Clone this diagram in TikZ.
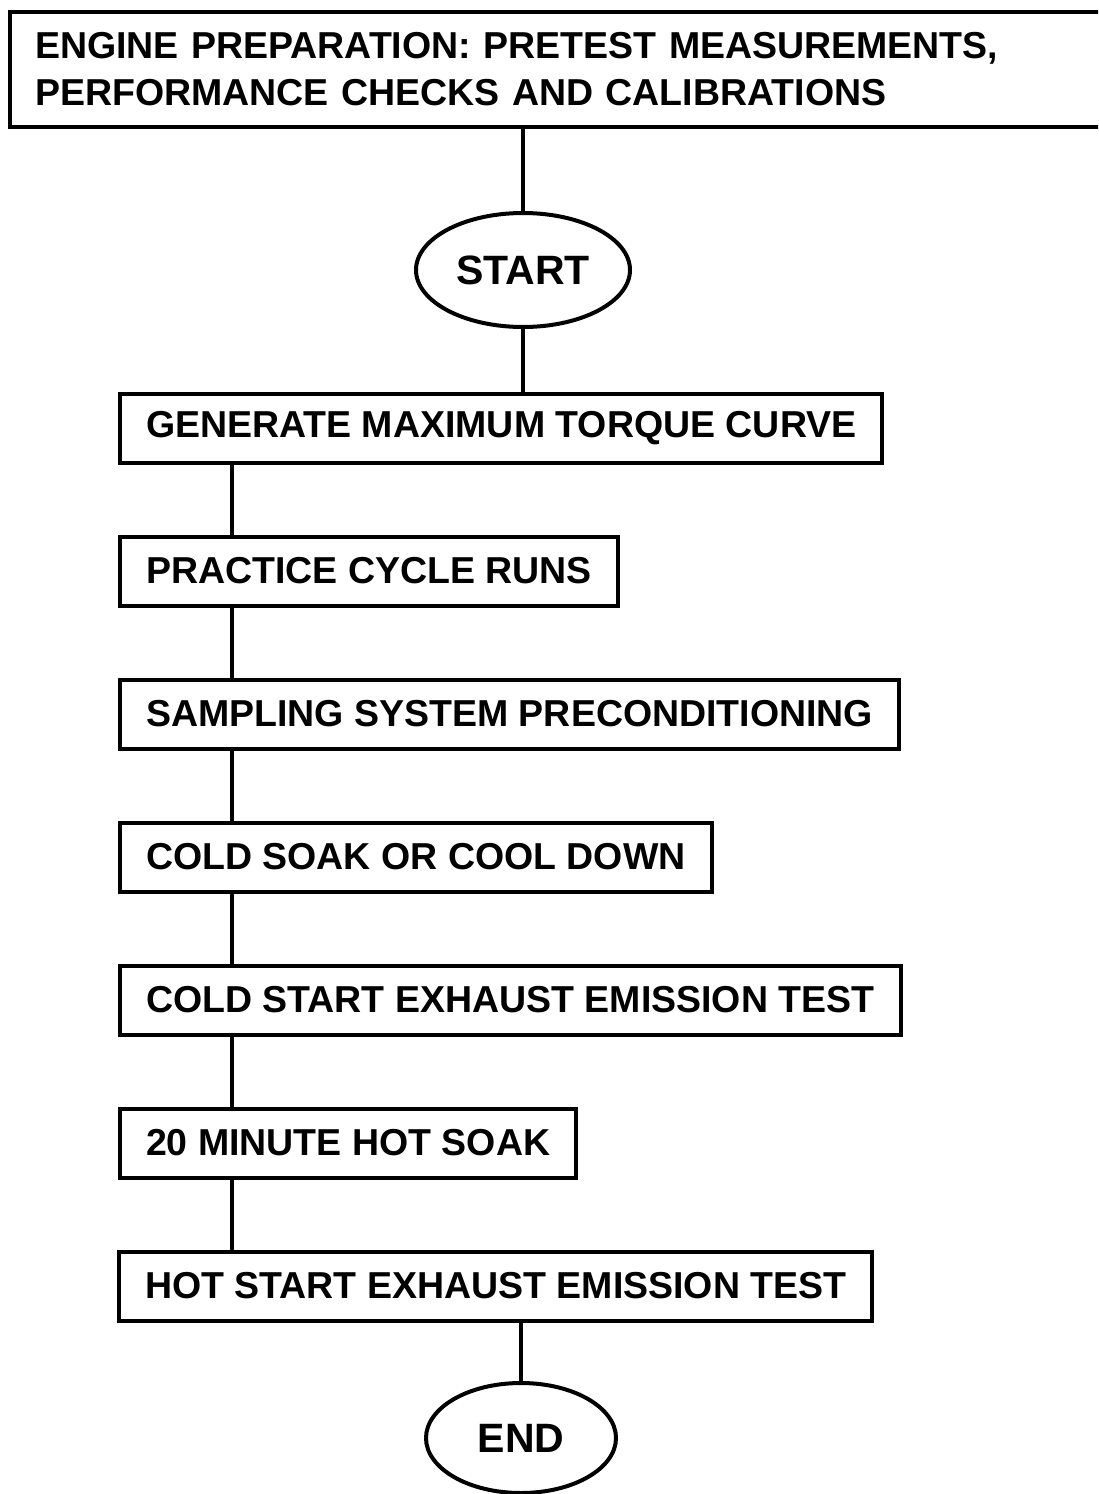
\documentclass[tikz,border=0pt]{standalone}
\usepackage{fontspec}
\setmainfont{Liberation Sans}
\usetikzlibrary{shapes.geometric}

\begin{document}
\begin{tikzpicture}[
  x=0.5pt,
  y=-0.5pt,
  stepbox/.style={draw, line width=2pt, anchor=west, outer sep=0pt, inner xsep=13pt, minimum height=34.5pt, font=\fontsize{18.75}{22}\selectfont\bfseries},
  headbox/.style={draw, line width=2pt, anchor=north west, outer sep=0pt, inner xsep=12.5pt, minimum height=57.5pt, text width=540pt, align=left, font=\fontsize{18.75}{23.5}\selectfont\bfseries},
  terminal/.style={draw, ellipse, line width=2pt, outer sep=0pt, inner sep=0pt, font=\fontsize{20.5}{24}\selectfont\bfseries},
  link/.style={line width=2pt}
]
  \useasboundingbox (0,0) rectangle (1098,1494);
  \clip (0,0) rectangle (1098,1494);
  \fill[white] (0,0) rectangle (1098,1494);

  \node[headbox] (prep) at (10,12) {ENGINE PREPARATION: PRETEST MEASUREMENTS,\\PERFORMANCE CHECKS AND CALIBRATIONS};
  \node[terminal, minimum width=107pt, minimum height=57pt] (start) at (523,270) {START};

  \node[stepbox] (torque) at (120,428) {GENERATE MAXIMUM TORQUE CURVE};
  \node[stepbox] (practice) at (120,571) {PRACTICE CYCLE RUNS};
  \node[stepbox] (precond) at (120,714) {SAMPLING SYSTEM PRECONDITIONING};
  \node[stepbox] (coldsoak) at (120,857) {COLD SOAK OR COOL DOWN};
  \node[stepbox] (coldtest) at (120,1000) {COLD START EXHAUST EMISSION TEST};
  \node[stepbox] (hotsoak) at (120,1143) {20 MINUTE HOT SOAK};
  \node[stepbox] (hottest) at (119,1286) {HOT START EXHAUST EMISSION TEST};

  \node[terminal, minimum width=95pt, minimum height=55pt] (finish) at (521,1438) {END};
  \coordinate (spine) at (232,0);

  \draw[link] (prep.south -| start) -- (start.north);
  \draw[link] (start.south) -- (start.south |- torque.north);
  \draw[link] (torque.south -| spine) -- (practice.north -| spine);
  \draw[link] (practice.south -| spine) -- (precond.north -| spine);
  \draw[link] (precond.south -| spine) -- (coldsoak.north -| spine);
  \draw[link] (coldsoak.south -| spine) -- (coldtest.north -| spine);
  \draw[link] (coldtest.south -| spine) -- (hotsoak.north -| spine);
  \draw[link] (hotsoak.south -| spine) -- (hottest.north -| spine);
  \draw[link] (finish.north |- hottest.south) -- (finish.north);
\end{tikzpicture}
\end{document}
